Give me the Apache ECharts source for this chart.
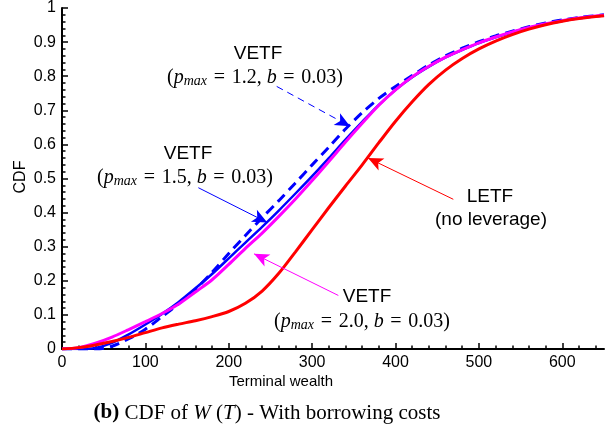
<!DOCTYPE html>
<html>
<head>
<meta charset="utf-8">
<script src="https://cdn.jsdelivr.net/npm/echarts@6/dist/echarts.min.js"></script>
<style>
html,body{margin:0;padding:0;background:#fff;}
#chart{width:616px;height:432px;}
</style>
</head>
<body>
<div id="chart"></div>
<script>
// ---- data ----
const xValues = [0,20,40,60,80,100,120,140,160,180,200,220,240,260,280,300,320,340,360,380,400,420,440,460,480,500,520,540,560,580,600,620,650];
const letf    = [0,0.004,0.012,0.022,0.034,0.048,0.062,0.073,0.083,0.095,0.11,0.134,0.17,0.222,0.285,0.35,0.415,0.478,0.54,0.605,0.668,0.725,0.776,0.818,0.852,0.88,0.903,0.922,0.938,0.951,0.961,0.969,0.977];
const vetf15  = [0,0,0.003,0.018,0.043,0.072,0.103,0.138,0.178,0.22,0.266,0.312,0.358,0.406,0.456,0.507,0.56,0.614,0.666,0.716,0.76,0.797,0.828,0.855,0.877,0.897,0.914,0.929,0.942,0.953,0.962,0.97,0.978];
const vetf20  = [0,0.004,0.017,0.035,0.057,0.08,0.104,0.132,0.167,0.203,0.248,0.295,0.34,0.389,0.44,0.494,0.55,0.607,0.662,0.715,0.76,0.798,0.829,0.856,0.878,0.898,0.915,0.93,0.943,0.954,0.963,0.971,0.979];
const vetf12  = [0,0,0,0.008,0.03,0.058,0.095,0.133,0.175,0.225,0.28,0.333,0.385,0.435,0.487,0.54,0.592,0.645,0.693,0.735,0.77,0.802,0.833,0.86,0.882,0.901,0.918,0.932,0.945,0.956,0.965,0.972,0.98];
const xTickLabels = [0,100,200,300,400,500,600];
const xMinorTicks = [20,40,60,80,120,140,160,180,220,240,260,280,320,340,360,380,420,440,460,480,520,540,560,580,620,640];
// annotation arrows: [from, to] in data coordinates
const arrow12 = [[257.5,0.770],[345.4,0.653]];
const arrow15 = [[163.5,0.473],[246.2,0.371]];
const arrow20 = [[331.4,0.157],[230.3,0.279]];
const arrowLetf = [[469.3,0.439],[367.0,0.560]];

const zip = arr => xValues.map((x,i)=>[x, arr[i]]);
const SERIF = '"Liberation Serif","DejaVu Serif",serif';
const SANS = '"Liberation Sans",Arial,sans-serif';

function arrowLine(pts, color, dashed){
  return {
    silent:true, animation:false,
    symbol:['none','arrow'], symbolSize:[10,15],
    label:{show:false},
    lineStyle:{color:color, width:1, type: dashed ? [7,5] : 'solid'},
    emphasis:{disabled:true},
    data:[[{coord:pts[0]},{coord:pts[1]}]]
  };
}

const mathRich = {
  n:{fontFamily:SERIF, fontSize:20, lineHeight:24, verticalAlign:'bottom', color:'#000'},
  i:{fontFamily:SERIF, fontSize:20, fontStyle:'italic', lineHeight:24, verticalAlign:'bottom', color:'#000'},
  s:{fontFamily:SERIF, fontSize:14, fontStyle:'italic', lineHeight:14, verticalAlign:'bottom', color:'#000'}
};
const SP = '\u2004';
function mathText(p){ return '{n|(}{i|p}{s|max}{n|'+SP+'='+SP+p+', }{i|b}{n|'+SP+'='+SP+'0.03)}'; }

function txt(x,y,text,opts){
  return {type:'text', silent:true, style:Object.assign({x:x,y:y,text:text,align:'center',verticalAlign:'middle',fill:'#000',font:'19px '+SANS}, opts||{})};
}

const chart = echarts.init(document.getElementById('chart'), null, {renderer:'canvas'});
chart.setOption({
  animation:false,
  backgroundColor:'#fff',
  grid:{left:62, right:12, top:6, bottom:83},
  xAxis:[{
    type:'value', min:0, max:650, position:'bottom',
    axisLine:{show:true, onZero:false, lineStyle:{color:'#000', width:2}},
    axisTick:{show:true, inside:true, length:6, lineStyle:{color:'#000', width:1.5}, customValues:xTickLabels},
    axisLabel:{show:true, margin:6, color:'#000', fontSize:16, fontFamily:SANS, customValues:xTickLabels},
    splitLine:{show:false}
  },{
    type:'value', min:0, max:650, position:'bottom', offset:0,
    axisLine:{show:false},
    axisTick:{show:true, inside:true, length:3.5, lineStyle:{color:'#000', width:1.5}, customValues:xMinorTicks},
    axisLabel:{show:false},
    splitLine:{show:false}
  }],
  yAxis:{
    type:'value', min:0, max:1, interval:0.1,
    axisLine:{show:true, onZero:false, lineStyle:{color:'#000', width:2}},
    axisTick:{show:true, inside:true, length:6, lineStyle:{color:'#000', width:1.5}},
    minorTick:{show:true, splitNumber:5, length:3.5, lineStyle:{color:'#000', width:1.5}},
    axisLabel:{margin:6, color:'#000', fontSize:16, fontFamily:SANS},
    splitLine:{show:false}, minorSplitLine:{show:false}
  },
  series:[
    {name:'VETF 1.5', type:'line', data:zip(vetf15), showSymbol:false, smooth:0.3, lineStyle:{color:'#0000ff', width:2.5}, itemStyle:{color:'#0000ff'}, markLine:arrowLine(arrow15,'#0000ff',false)},
    {name:'VETF 1.2', type:'line', data:zip(vetf12), showSymbol:false, smooth:0.3, lineStyle:{color:'#0000ff', width:3, type:[10,6]}, itemStyle:{color:'#0000ff'}, markLine:arrowLine(arrow12,'#0000ff',true)},
    {name:'VETF 2.0', type:'line', data:zip(vetf20), showSymbol:false, smooth:0.3, lineStyle:{color:'#ff00ff', width:3}, itemStyle:{color:'#ff00ff'}, markLine:arrowLine(arrow20,'#ff00ff',false)},
    {name:'LETF', type:'line', data:zip(letf), showSymbol:false, smooth:0.3, lineStyle:{color:'#ff0000', width:3}, itemStyle:{color:'#ff0000'}, markLine:arrowLine(arrowLetf,'#ff0000',false)}
  ],
  graphic:[
    txt(258,54,'VETF'),
    {type:'text', silent:true, style:{x:255,y:76,text:mathText('1.2'),rich:mathRich,align:'center',verticalAlign:'middle'}},
    txt(188,154,'VETF'),
    {type:'text', silent:true, style:{x:185,y:176,text:mathText('1.5'),rich:mathRich,align:'center',verticalAlign:'middle'}},
    txt(490,197,'LETF'),
    txt(491,220,'(no leverage)'),
    txt(367,297,'VETF'),
    {type:'text', silent:true, style:{x:362,y:320,text:mathText('2.0'),rich:mathRich,align:'center',verticalAlign:'middle'}},
    {type:'text', silent:true, rotation:Math.PI/2, x:21, y:177, style:{x:0,y:0,text:'CDF',align:'center',verticalAlign:'middle',fill:'#000',font:'16px '+SANS}},
    txt(281,382,'Terminal wealth',{font:'15px '+SANS}),
    {type:'text', silent:true, style:{x:267,y:413,align:'center',verticalAlign:'middle',
      text:'{b|(b)}{n| CDF of }{i|W}{n| (}{i|T}{n|) - With borrowing costs}',
      rich:{
        b:{fontFamily:SERIF,fontSize:21,fontWeight:'bold',color:'#000'},
        n:{fontFamily:SERIF,fontSize:21,color:'#000'},
        i:{fontFamily:SERIF,fontSize:21,fontStyle:'italic',color:'#000'}
      }}}
  ]
});
</script>
</body>
</html>
